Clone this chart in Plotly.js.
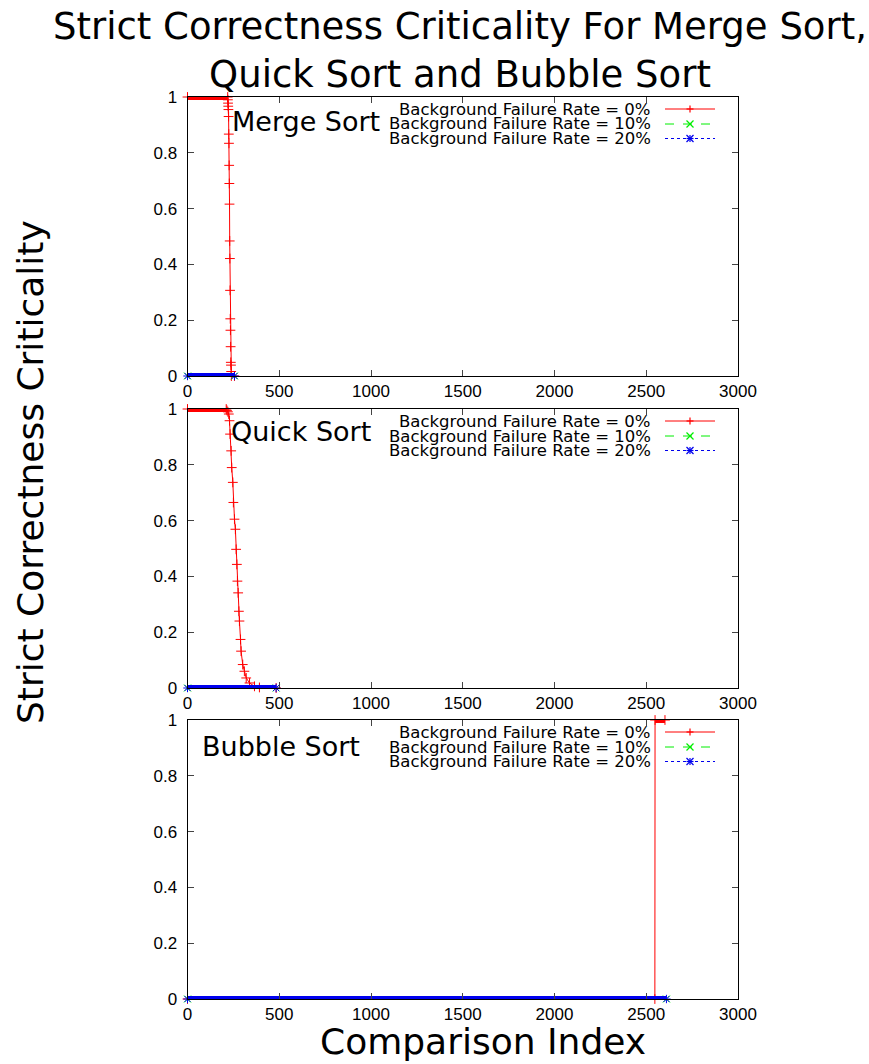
<!DOCTYPE html>
<html><head><meta charset="utf-8">
<script src="https://cdn.plot.ly/plotly-3.0.1.min.js"></script>
<style>html,body{margin:0;padding:0;background:#fff}</style>
</head><body><div id="chart" style="width:869px;height:1064px"></div>
<script>
// ---------------- DATA ----------------
const seriesNames = ['Background Failure Rate = 0%', 'Background Failure Rate = 10%', 'Background Failure Rate = 20%'];
const panelTitles = ['Merge Sort', 'Quick Sort', 'Bubble Sort'];
const xTickVals = [0, 500, 1000, 1500, 2000, 2500, 3000];
const yTickVals = [0, 0.2, 0.4, 0.6, 0.8, 1];

// Merge Sort
const mergeX0  = [0, 219, 220, 221, 222, 223, 224, 225, 226, 227, 228, 229, 230, 231, 232, 233, 234, 235, 236, 237, 238, 239, 256];
const mergeY0  = [1, 1, 0.99, 0.978, 0.967, 0.955, 0.93, 0.867, 0.834, 0.755, 0.69, 0.616, 0.484, 0.421, 0.307, 0.205, 0.164, 0.105, 0.049, 0.039, 0.016, 0, 0];
const mergeX10 = [0, 256];
const mergeY10 = [0, 0];
const mergeX20 = [0, 256];
const mergeY20 = [0, 0];

// Quick Sort
const quickX0  = [0, 211, 215, 220, 225, 229, 232, 238, 241, 247, 250, 256, 261, 265, 269, 272, 276, 280, 283, 289, 292, 301, 310, 320, 338, 365, 392, 483];
const quickY0  = [1, 1, 0.995, 0.99, 0.982, 0.958, 0.91, 0.85, 0.79, 0.737, 0.665, 0.605, 0.569, 0.497, 0.443, 0.383, 0.341, 0.275, 0.24, 0.174, 0.132, 0.084, 0.06, 0.036, 0.018, 0.006, 0.002, 0];
const quickX10 = [0, 483];
const quickY10 = [0, 0];
const quickX20 = [0, 483];
const quickY20 = [0, 0];

// Bubble Sort
const bubbleX0  = [0, 2547, 2548, 2602];
const bubbleY0  = [0, 0, 1, 1];
const bubbleX10 = [0, 2610];
const bubbleY10 = [0, 0];
const bubbleX20 = [0, 2610];
const bubbleY20 = [0, 0];

// ---------------- STYLE / LAYOUT ----------------
const W = 869, H = 1064;
const px = v => v / W;
const py = v => 1 - v / H;
const panels = [
  {top: 97, bottom: 376, series: [[mergeX0, mergeY0], [mergeX10, mergeY10], [mergeX20, mergeY20]], titleX: 230, titleY: 121},
  {top: 409, bottom: 688, series: [[quickX0, quickY0], [quickX10, quickY10], [quickX20, quickY20]], titleX: 229, titleY: 431},
  {top: 720, bottom: 999, series: [[bubbleX0, bubbleY0], [bubbleX10, bubbleY10], [bubbleX20, bubbleY20]], titleX: 200, titleY: 746}
];
const colors = ['#ff0000', '#00ee00', '#0000ee'];
const dashes = ['solid', 'dash', 'dot'];
const symbols = ['cross-thin-open', 'x-thin-open', 'asterisk-open'];

function flatRuns(x, y) {
  const runs = [];
  for (let i = 0; i < x.length - 1; i++) {
    if (y[i] === y[i + 1]) runs.push([[x[i], x[i + 1]], [y[i], y[i + 1]]]);
  }
  return runs;
}

const traces = [];
const layout = {
  width: W, height: H,
  margin: {l: 0, r: 0, t: 0, b: 0},
  paper_bgcolor: '#fff', plot_bgcolor: '#fff',
  showlegend: false,
  font: {family: 'Liberation Sans, Arial, sans-serif', color: '#000'},
  title: {
    text: 'Strict Correctness Criticality For Merge Sort,<br>Quick Sort and Bubble Sort',
    font: {family: 'DejaVu Sans', size: 37, color: '#000'},
    x: 460 / W, xref: 'paper', xanchor: 'center',
    y: py(39), yref: 'paper', yanchor: 'top'
  },
  annotations: [],
  shapes: []
};

panels.forEach((p, k) => {
  const n = k === 0 ? '' : String(k + 1);
  const xa = 'x' + n, ya = 'y' + n;
  layout['xaxis' + n] = {
    domain: [px(187.5), px(738)], range: [0, 3000], anchor: ya,
    tickvals: xTickVals, ticks: 'inside', ticklen: 6, tickcolor: '#444',
    mirror: 'ticks', showline: true, linecolor: '#000', linewidth: 1,
    showgrid: false, zeroline: false, fixedrange: true,
    tickfont: {family: 'Liberation Sans', size: 17, color: '#000'}
  };
  layout['yaxis' + n] = {
    domain: [py(p.bottom), py(p.top)], range: [0, 1], anchor: xa,
    tickvals: yTickVals, ticks: 'inside', ticklen: 6, tickcolor: '#444',
    mirror: 'ticks', showline: true, linecolor: '#000', linewidth: 1,
    showgrid: false, zeroline: false, fixedrange: true, ticklabelstandoff: 6,
    tickfont: {family: 'Liberation Sans', size: 17, color: '#000'}
  };
  p.series.forEach((s, j) => {
    // dense-marker bands on flat stretches
    flatRuns(s[0], s[1]).forEach(r => {
      traces.push({type: 'scatter', mode: 'lines', x: r[0], y: r[1], xaxis: xa, yaxis: ya,
        line: {color: colors[j], width: 6}, hoverinfo: 'skip', showlegend: false, cliponaxis: false});
    });
    traces.push({
      type: 'scatter', mode: 'lines+markers', name: seriesNames[j],
      x: s[0], y: s[1], xaxis: xa, yaxis: ya, cliponaxis: false,
      line: {color: colors[j], width: 1, dash: dashes[j]},
      marker: {symbol: symbols[j], size: 7, color: colors[j], line: {color: colors[j], width: 1}}
    });
  });

  // panel title
  layout.annotations.push({
    text: panelTitles[k], xref: 'paper', yref: 'paper', x: px(p.titleX), y: py(p.titleY),
    xanchor: 'left', yanchor: 'middle', showarrow: false,
    font: {family: 'DejaVu Sans', size: 27, color: '#000'}
  });

  // legend (gnuplot style: text right-aligned, sample to the right)
  const rows = [p.top + 12, p.top + 27, p.top + 41.5];
  rows.forEach((ry, j) => {
    layout.annotations.push({
      text: seriesNames[j], xref: 'paper', yref: 'paper', x: px(653), y: py(ry),
      xanchor: 'right', yanchor: 'middle', showarrow: false,
      font: {family: 'DejaVu Sans', size: 16.5, color: '#000'}
    });
    layout.shapes.push({type: 'line', xref: 'paper', yref: 'paper',
      x0: px(665), x1: px(715), y0: py(ry), y1: py(ry),
      line: {color: colors[j], width: 1, dash: dashes[j]}});
    const cx = 690, d = 3.5;
    const segs = [];
    if (j === 0 || j === 2) { segs.push([cx - d, ry, cx + d, ry]); segs.push([cx, ry - d, cx, ry + d]); }
    if (j === 1 || j === 2) { segs.push([cx - d, ry - d, cx + d, ry + d]); segs.push([cx - d, ry + d, cx + d, ry - d]); }
    segs.forEach(sg => layout.shapes.push({type: 'line', xref: 'paper', yref: 'paper',
      x0: px(sg[0]), y0: py(sg[1]), x1: px(sg[2]), y1: py(sg[3]), line: {color: colors[j], width: 1.2}}));
  });
});

// axis titles
layout.annotations.push({
  text: 'Strict Correctness Criticality', xref: 'paper', yref: 'paper', x: px(31), y: py(472),
  xanchor: 'center', yanchor: 'middle', textangle: -90, showarrow: false,
  font: {family: 'DejaVu Sans', size: 36, color: '#000'}
});
layout.annotations.push({
  text: 'Comparison Index', xref: 'paper', yref: 'paper', x: px(483), y: py(1041),
  xanchor: 'center', yanchor: 'middle', showarrow: false,
  font: {family: 'DejaVu Sans', size: 36, color: '#000'}
});

Plotly.newPlot('chart', traces, layout, {displayModeBar: false, staticPlot: true});
</script>
</body></html>
